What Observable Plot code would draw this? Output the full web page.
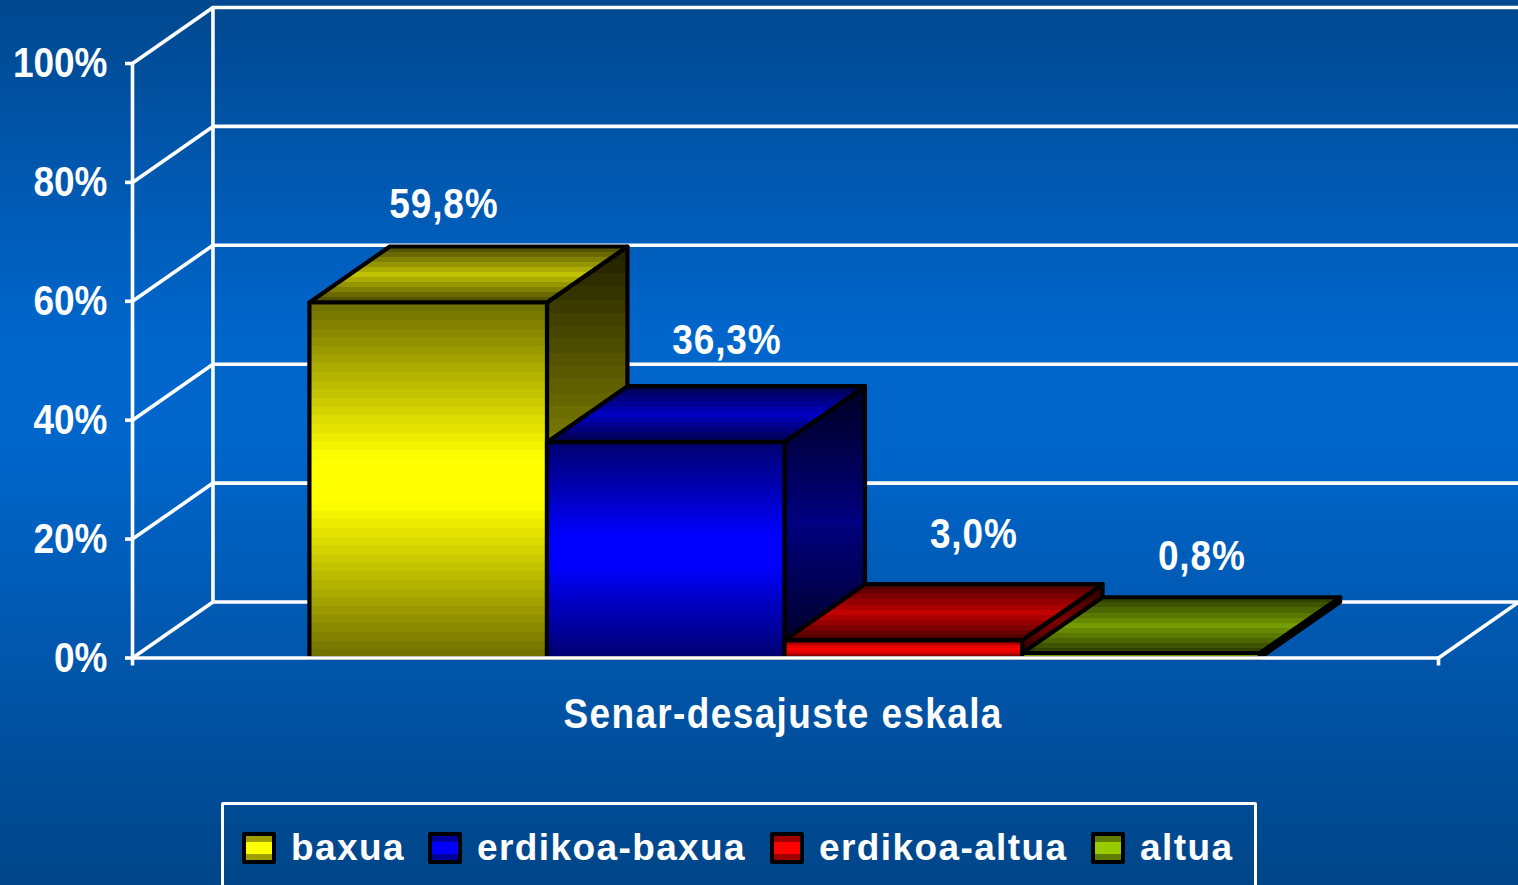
<!DOCTYPE html>
<html>
<head>
<meta charset="utf-8">
<script src="https://cdn.jsdelivr.net/npm/d3@7"></script>
<script src="https://cdn.jsdelivr.net/npm/@observablehq/plot@0.6"></script>
<style>
  html, body { margin: 0; padding: 0; width: 1518px; height: 885px; overflow: hidden; }
  body { background: linear-gradient(180deg, #00488f 0%, #0066cc 38%, #0066cc 50%, #004588 100%); }
  svg { display: block; }
  svg text { font-family: "Liberation Sans", sans-serif; font-weight: 700; }
  .val text { letter-spacing: 1px; }
  .ttl text { letter-spacing: 1.6px; }
  #legend { position: absolute; left: 221px; top: 802px; width: 1030px; height: 100px; box-sizing: content-box;
    border: 3.5px solid #fff; border-radius: 2px; font: 700 37px "Liberation Sans", sans-serif; color: #fff; letter-spacing: 1.4px; }
  #legend .item { position: absolute; top: 22px; display: flex; align-items: center; gap: 15px; white-space: nowrap; }
  #legend .sw { width: 26px; height: 24px; border: 4px solid #000; border-radius: 2px; display: block; }
</style>
</head>
<body>
<div id="chart"></div>
<div id="legend"></div>
<script>
// ---- data ----
const categories = ["baxua", "erdikoa-baxua", "erdikoa-altua", "altua"];
const values = [59.8, 36.3, 3.0, 0.8];
const valueLabels = ["59,8%", "36,3%", "3,0%", "0,8%"];
const baseColors = ["#ffff00", "#0000ff", "#ff0000", "#99cc00"];
const yTicks = [0, 20, 40, 60, 80, 100];
const axisTitle = "Senar-desajuste eskala";

// ---- layout, in scale units ----
const barStart = 0.741, barWidth = 0.995, xMax = 5.47, depthX = 0.337, depthY = 9.42;
const labelShiftX = [0.066, 0.256, 0.295, 0.255];
const labelShiftY = [16.6, 17.1, 17.8, 16.4];
const legendLeft = [18, 204, 546, 867];
const narrow = 0.86;

const WHITE = "#fff";
const line = (pts, o = {}) => Plot.line(pts, {x: "x", y: "y", stroke: WHITE, strokeWidth: 3.6, ...o});

function shade(color, k) {
  const c = d3.rgb(color);
  return d3.rgb(c.r * k, c.g * k, c.b * k).formatHex();
}
function addGradient(defs, id, color, edge, peak, bands, gain) {
  const g = defs.append("linearGradient").attr("id", id).attr("x1", 0).attr("x2", 0).attr("y1", 0).attr("y2", 1);
  for (let b = 0; b < bands; b++) {
    const t = (b + 0.5) / bands;
    const u = Math.min(1, gain * (1 - Math.abs(2 * t - 1)));
    const col = shade(color, edge + (peak - edge) * u);
    g.append("stop").attr("offset", b / bands).attr("stop-color", col);
    g.append("stop").attr("offset", (b + 1) / bands).attr("stop-color", col);
  }
}
const gradients = () => {
  const defs = d3.create("svg:defs");
  baseColors.forEach((c, i) => {
    addGradient(defs, "front" + i, c, 0.43, 1, i < 2 ? 41 : 7, 1.15);
    addGradient(defs, "top" + i, c, 0.28, 0.76, 11, 1);
    addGradient(defs, "side" + i, c, 0.12, 0.5, 31, 1);
  });
  return defs.node();
};

// walls and gridlines
const wallMarks = [];
for (const v of yTicks) {
  wallMarks.push(line([{x: 0, y: v}, {x: depthX, y: v + depthY}, {x: xMax + depthX, y: v + depthY}]));
}
wallMarks.push(line([{x: depthX, y: depthY}, {x: depthX, y: 100 + depthY}]));
wallMarks.push(line([{x: 0, y: 0}, {x: 0, y: 100}]));
wallMarks.push(line([{x: xMax, y: 0}, {x: xMax + depthX, y: depthY}]));

// bars as three faces, painted left to right
const barMarks = [];
const barStyle = {x: "x", y: "y", stroke: "#000", strokeWidth: 4.2, strokeLinejoin: "round"};
values.forEach((v, i) => {
  const a = barStart + i * barWidth, b = a + barWidth;
  barMarks.push(Plot.line([
    {x: b, y: 0}, {x: b + depthX, y: depthY}, {x: b + depthX, y: v + depthY}, {x: b, y: v}, {x: b, y: 0}
  ], {...barStyle, fill: `url(#side${i})`}));
  barMarks.push(Plot.line([
    {x: a, y: v}, {x: a + depthX, y: v + depthY}, {x: b + depthX, y: v + depthY}, {x: b, y: v}, {x: a, y: v}
  ], {...barStyle, fill: `url(#top${i})`}));
  barMarks.push(Plot.line([
    {x: a, y: 0}, {x: a, y: v}, {x: b, y: v}, {x: b, y: 0}, {x: a, y: 0}
  ], {...barStyle, fill: `url(#front${i})`}));
});

const chart = Plot.plot({
  width: 1518, height: 803,
  marginLeft: 132, marginRight: 80, marginTop: 63, marginBottom: 145.5,
  style: {background: "transparent", overflow: "visible"},
  x: {domain: [0, xMax], axis: null},
  y: {domain: [0, 100], axis: null},
  marks: [
    gradients,
    ...wallMarks,
    Plot.axisY({ticks: yTicks, tickFormat: d => d + "%", tickSize: 7, tickPadding: 18, fontSize: 43,
      stroke: WHITE, strokeWidth: 3.6, fill: WHITE, label: null, className: "lab", anchor: "left"}),
    Plot.axisX({ticks: [0, xMax], tickFormat: () => "", tickSize: 8, stroke: WHITE, strokeWidth: 3.6, label: null, anchor: "bottom"}),
    ...barMarks,
    line([{x: 0, y: 0}, {x: xMax, y: 0}]),
    Plot.text(values, {
      x: (d, i) => barStart + (i + 0.5) * barWidth + labelShiftX[i],
      y: (d, i) => d + labelShiftY[i],
      text: (d, i) => valueLabels[i],
      fill: WHITE, fontSize: 43, className: "val"
    }),
    Plot.text([axisTitle], {x: [xMax / 2 - 0.01], y: [-9.5], text: d => d, fill: WHITE, fontSize: 43, className: "ttl"})
  ]
});
document.getElementById("chart").append(chart);

// the reference type is a condensed bold: narrow the real text to that width
chart.querySelectorAll("text").forEach(t => {
  const w = t.getComputedTextLength();
  if (w > 0) {
    t.setAttribute("textLength", (w * narrow).toFixed(1));
    t.setAttribute("lengthAdjust", "spacingAndGlyphs");
  }
});

// legend, below the SVG
const legend = d3.select("#legend");
categories.forEach((name, i) => {
  const item = legend.append("div").attr("class", "item").style("left", legendLeft[i] + "px");
  const c = baseColors[i], d = shade(c, 0.62);
  item.append("span").attr("class", "sw").style("background",
    `linear-gradient(180deg, ${d} 0 25%, ${c} 25% 75%, ${d} 75% 100%)`);
  item.append("span").text(name);
});
</script>
</body>
</html>
